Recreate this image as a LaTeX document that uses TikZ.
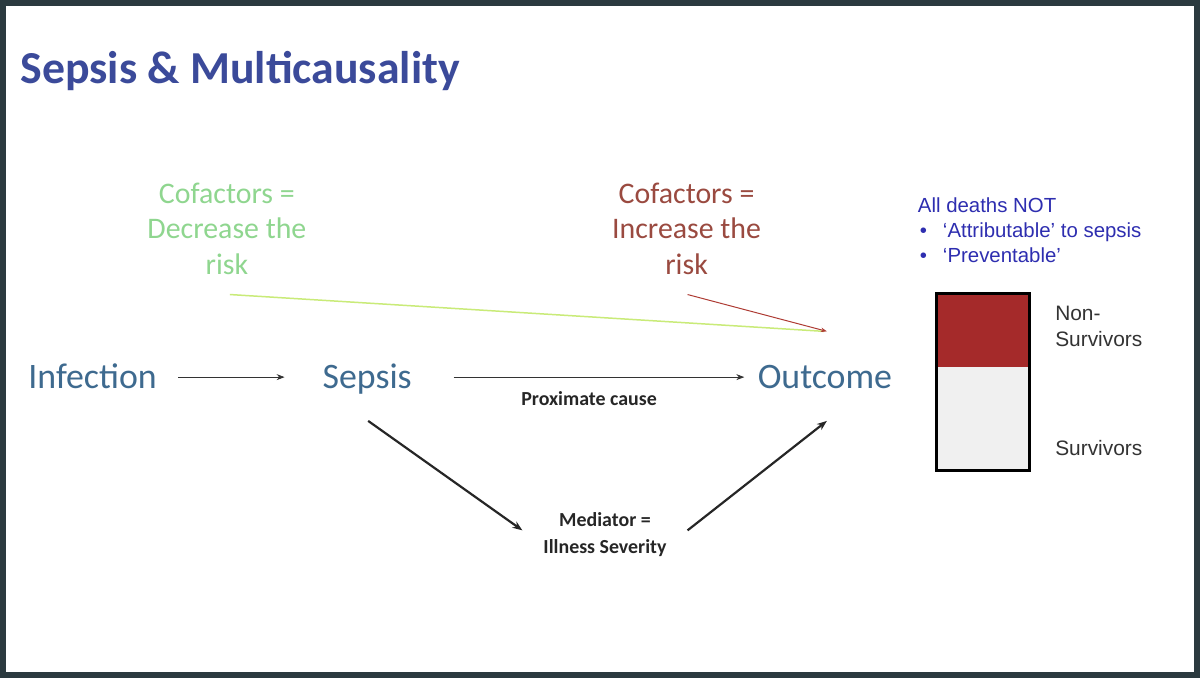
\documentclass[tikz,border=0pt]{standalone}
\usepackage{fontspec}
\setmainfont{Carlito}
\newfontfamily\arialf{Liberation Sans}
\usetikzlibrary{arrows.meta}
\definecolor{ttl}{HTML}{3B4A9A}
\definecolor{nd}{HTML}{3E6A8F}
\definecolor{grn}{HTML}{8FD68F}
\definecolor{rd}{HTML}{9A4A40}
\definecolor{box}{HTML}{A52A2A}
\definecolor{blu}{HTML}{2E2EB0}
\tikzset{
  big/.style={font=\fontsize{36}{40}\selectfont, text=nd, anchor=base},
  cof/.style={font=\fontsize{30}{36}\selectfont, align=center},
  small/.style={font=\bfseries\fontsize{20}{27}\selectfont, text=black!85, align=center},
  thin/.style={-{Stealth[length=8pt,width=6pt]}, line width=0.8pt, black!80},
  thick/.style={-{Stealth[length=10pt]}, line width=2.2pt, black!85},
  lab/.style={font=\arialf\fontsize{21}{26}\selectfont, text=black!80, anchor=west, align=left}
}
\begin{document}
\begin{tikzpicture}[x=1pt,y=-1pt]
\fill[white] (0,0) rectangle (1200,675);
\draw[line width=6pt, color={rgb,255:red,43;green,58;blue,63}] (0,0) rectangle (1200,675);
\node[anchor=west, font=\bfseries\fontsize{46}{50}\selectfont, text=ttl] (title) at (14,68) {Sepsis \& Multicausality};
\node[big] (inf) at (90,387) {Infection};
\node[big] (sep) at (366,387) {Sepsis};
\node[big] (out) at (826,387) {Outcome};
\draw[thin] (176,376) -- (283,376);
\draw[thin] (453,376) -- (745,376);
\node[small] (prox) at (589,398) {Proximate cause};
\node[small] (med) at (605,534) {Mediator =\\Illness Severity};
\coordinate (s1) at (367,420); \coordinate (s2) at (522,530);
\coordinate (o1) at (688,530); \coordinate (o2) at (828,420);
\draw[thick] (s1) -- (s2);
\draw[thick] (o1) -- (o2);
\node[cof, text=grn] (cg) at (225,227) {Cofactors =\\Decrease the\\risk};
\node[cof, text=rd] (cr) at (687,227) {Cofactors =\\Increase the\\risk};
\coordinate (g1) at (228,293); \coordinate (g2) at (825,330);
\coordinate (r1) at (688,293); \coordinate (r2) at (828,330);
\draw[line width=1.5pt, color=grn!60!yellow!80] (g1) -- (g2);
\draw[-{Stealth[length=6pt]}, line width=1pt, color=rd!80!red] (r1) -- (r2);
\node[font=\arialf\fontsize{20.5}{26}\selectfont, text=blu, anchor=west, align=left] (all) at (916,228)
  {All deaths NOT\\[-1pt]\hspace*{2pt}\textbullet\hspace{16pt}‘Attributable’ to sepsis\\[-1pt]\hspace*{2pt}\textbullet\hspace{16pt}‘Preventable’};
\fill[box] (938,292) rectangle (1032,366);
\fill[black!6] (938,366) rectangle (1032,470);
\draw[line width=3pt] (938,292) rectangle (1032,470);
\node[lab] (ns) at (1054,325) {Non-\\Survivors};
\node[lab] (sv) at (1054,447) {Survivors};
\end{tikzpicture}
\end{document}
